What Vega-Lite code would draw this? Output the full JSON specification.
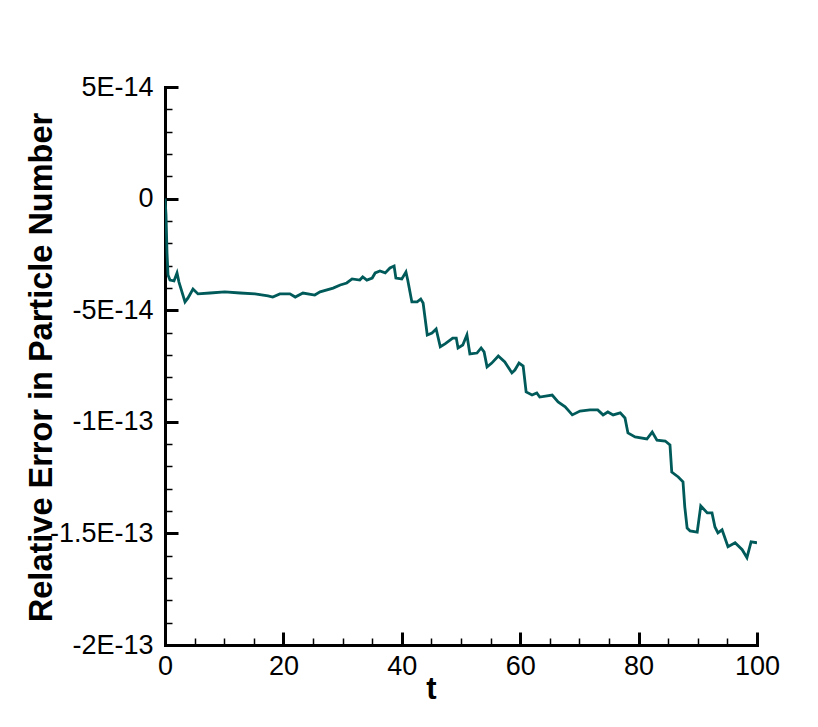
{
  "$schema": "https://vega.github.io/schema/vega-lite/v6.json",
  "width": 592,
  "height": 558,
  "autosize": {"type": "none"},
  "padding": {"left": 165, "top": 87, "right": 61, "bottom": 82},
  "background": "white",
  "config": {"view": {"stroke": null}},
  "data": {"values": [
    {"t": 0, "err": 0},
    {"t": 0.17, "err": -7.3e-15},
    {"t": 0.34, "err": -2.44e-14},
    {"t": 0.51, "err": -3.42e-14},
    {"t": 0.84, "err": -3.65e-14},
    {"t": 1.52, "err": -3.69e-14},
    {"t": 2.03, "err": -3.33e-14},
    {"t": 2.36, "err": -3.74e-14},
    {"t": 3.38, "err": -4.63e-14},
    {"t": 3.89, "err": -4.45e-14},
    {"t": 4.73, "err": -4.05e-14},
    {"t": 5.57, "err": -4.27e-14},
    {"t": 7.6, "err": -4.23e-14},
    {"t": 10.1, "err": -4.18e-14},
    {"t": 12.7, "err": -4.23e-14},
    {"t": 15.2, "err": -4.27e-14},
    {"t": 17.4, "err": -4.36e-14},
    {"t": 18.2, "err": -4.41e-14},
    {"t": 19.4, "err": -4.27e-14},
    {"t": 21.1, "err": -4.27e-14},
    {"t": 22.0, "err": -4.41e-14},
    {"t": 23.3, "err": -4.23e-14},
    {"t": 25.3, "err": -4.32e-14},
    {"t": 26.2, "err": -4.18e-14},
    {"t": 28.4, "err": -4.01e-14},
    {"t": 29.6, "err": -3.87e-14},
    {"t": 30.7, "err": -3.78e-14},
    {"t": 31.6, "err": -3.6e-14},
    {"t": 32.9, "err": -3.65e-14},
    {"t": 33.4, "err": -3.51e-14},
    {"t": 34.1, "err": -3.65e-14},
    {"t": 35.0, "err": -3.56e-14},
    {"t": 35.5, "err": -3.33e-14},
    {"t": 36.3, "err": -3.24e-14},
    {"t": 37.2, "err": -3.33e-14},
    {"t": 38.0, "err": -3.11e-14},
    {"t": 38.7, "err": -3.02e-14},
    {"t": 39.0, "err": -3.56e-14},
    {"t": 40.0, "err": -3.6e-14},
    {"t": 40.7, "err": -3.29e-14},
    {"t": 41.0, "err": -3.65e-14},
    {"t": 41.7, "err": -4.63e-14},
    {"t": 42.6, "err": -4.63e-14},
    {"t": 43.2, "err": -4.5e-14},
    {"t": 43.6, "err": -4.68e-14},
    {"t": 44.3, "err": -6.11e-14},
    {"t": 45.1, "err": -6.02e-14},
    {"t": 45.8, "err": -5.84e-14},
    {"t": 46.5, "err": -6.64e-14},
    {"t": 47.3, "err": -6.51e-14},
    {"t": 48.6, "err": -6.25e-14},
    {"t": 49.2, "err": -6.25e-14},
    {"t": 49.5, "err": -6.69e-14},
    {"t": 50.3, "err": -6.56e-14},
    {"t": 51.0, "err": -6.11e-14},
    {"t": 51.5, "err": -6.96e-14},
    {"t": 52.7, "err": -6.92e-14},
    {"t": 53.4, "err": -6.69e-14},
    {"t": 53.9, "err": -6.87e-14},
    {"t": 54.4, "err": -7.54e-14},
    {"t": 55.2, "err": -7.37e-14},
    {"t": 56.3, "err": -7.05e-14},
    {"t": 57.4, "err": -7.32e-14},
    {"t": 58.6, "err": -7.81e-14},
    {"t": 59.1, "err": -7.68e-14},
    {"t": 59.8, "err": -7.37e-14},
    {"t": 60.5, "err": -7.5e-14},
    {"t": 61.0, "err": -8.66e-14},
    {"t": 62.0, "err": -8.8e-14},
    {"t": 62.8, "err": -8.71e-14},
    {"t": 63.3, "err": -8.89e-14},
    {"t": 65.4, "err": -8.8e-14},
    {"t": 66.4, "err": -9.11e-14},
    {"t": 67.6, "err": -9.33e-14},
    {"t": 68.8, "err": -9.69e-14},
    {"t": 70.1, "err": -9.52e-14},
    {"t": 71.8, "err": -9.47e-14},
    {"t": 73.1, "err": -9.47e-14},
    {"t": 74.0, "err": -9.69e-14},
    {"t": 74.8, "err": -9.56e-14},
    {"t": 75.7, "err": -9.69e-14},
    {"t": 76.9, "err": -9.6e-14},
    {"t": 77.7, "err": -9.83e-14},
    {"t": 78.2, "err": -1.05e-13},
    {"t": 79.4, "err": -1.068e-13},
    {"t": 81.4, "err": -1.077e-13},
    {"t": 82.3, "err": -1.046e-13},
    {"t": 83.1, "err": -1.082e-13},
    {"t": 84.5, "err": -1.086e-13},
    {"t": 85.3, "err": -1.104e-13},
    {"t": 85.6, "err": -1.225e-13},
    {"t": 86.7, "err": -1.247e-13},
    {"t": 87.5, "err": -1.269e-13},
    {"t": 87.8, "err": -1.381e-13},
    {"t": 88.2, "err": -1.476e-13},
    {"t": 88.7, "err": -1.489e-13},
    {"t": 89.9, "err": -1.494e-13},
    {"t": 90.5, "err": -1.377e-13},
    {"t": 91.6, "err": -1.408e-13},
    {"t": 92.4, "err": -1.408e-13},
    {"t": 92.9, "err": -1.471e-13},
    {"t": 93.4, "err": -1.498e-13},
    {"t": 94.1, "err": -1.484e-13},
    {"t": 95.1, "err": -1.56e-13},
    {"t": 96.3, "err": -1.542e-13},
    {"t": 97.5, "err": -1.573e-13},
    {"t": 98.3, "err": -1.609e-13},
    {"t": 99.0, "err": -1.538e-13},
    {"t": 100, "err": -1.542e-13}
  ]},
  "mark": {"type": "line", "color": "#005A5A", "strokeWidth": 2.8, "clip": true},
  "encoding": {
    "x": {
      "field": "t", "type": "quantitative",
      "scale": {"domain": [0, 100], "nice": false, "zero": false},
      "axis": {
        "title": "t",
        "titleFont": "Liberation Sans", "titleFontSize": 31, "titleFontWeight": "bold", "titleColor": "black",
        "titleX": 266, "titleY": 53, "titleBaseline": "alphabetic", "titleAlign": "center", "titleAnchor": null,
        "values": [0,5,10,15,20,25,30,35,40,45,50,55,60,65,70,75,80,85,90,95,100],
        "labelExpr": "datum.value % 20 == 0 ? format(datum.value, 'd') : ''",
        "labelFont": "Liberation Sans", "labelFontSize": 27, "labelColor": "black",
        "labelFlush": false, "labelOverlap": false, "labelPadding": 21,
        "tickSize": {"condition": {"test": "datum.value % 20 == 0", "value": -13}, "value": -7},
        "tickWidth": {"condition": {"test": "datum.value % 20 == 0", "value": 3}, "value": 1.5},
        "tickColor": "black", "tickCap": "butt",
        "domainColor": "black", "domainWidth": 3, "domainCap": "square",
        "grid": false
      }
    },
    "y": {
      "field": "err", "type": "quantitative",
      "scale": {"domain": [-2e-13, 5e-14], "nice": false, "zero": false},
      "axis": {
        "title": "Relative Error in Particle Number",
        "titleFont": "Liberation Sans", "titleFontSize": 32.5, "titleFontWeight": "bold", "titleColor": "black",
        "titleAngle": -90, "titleX": -114, "titleY": 280, "titleBaseline": "alphabetic", "titleAlign": "center", "titleAnchor": null,
        "values": [-2e-13,-1.9e-13,-1.8e-13,-1.7e-13,-1.6e-13,-1.5e-13,-1.4e-13,-1.3e-13,-1.2e-13,-1.1e-13,-1e-13,-9e-14,-8e-14,-7e-14,-6e-14,-5e-14,-4e-14,-3e-14,-2e-14,-1e-14,0,1e-14,2e-14,3e-14,4e-14,5e-14],
        "labelExpr": "round(datum.value*1e15)==50 ? '5E-14' : round(datum.value*1e15)==0 ? '0' : round(datum.value*1e15)==-50 ? '-5E-14' : round(datum.value*1e15)==-100 ? '-1E-13' : round(datum.value*1e15)==-150 ? '-1.5E-13' : round(datum.value*1e15)==-200 ? '-2E-13' : ''",
        "labelFont": "Liberation Sans", "labelFontSize": 27, "labelColor": "black",
        "labelFlush": false, "labelOverlap": false, "labelPadding": 25,
        "tickSize": {"condition": {"test": "round(datum.value*1e15) % 50 == 0", "value": -13}, "value": -7},
        "tickWidth": {"condition": {"test": "round(datum.value*1e15) % 50 == 0", "value": 3}, "value": 1.5},
        "tickColor": "black", "tickCap": "butt",
        "domainColor": "black", "domainWidth": 3, "domainCap": "square",
        "grid": false
      }
    }
  }
}
